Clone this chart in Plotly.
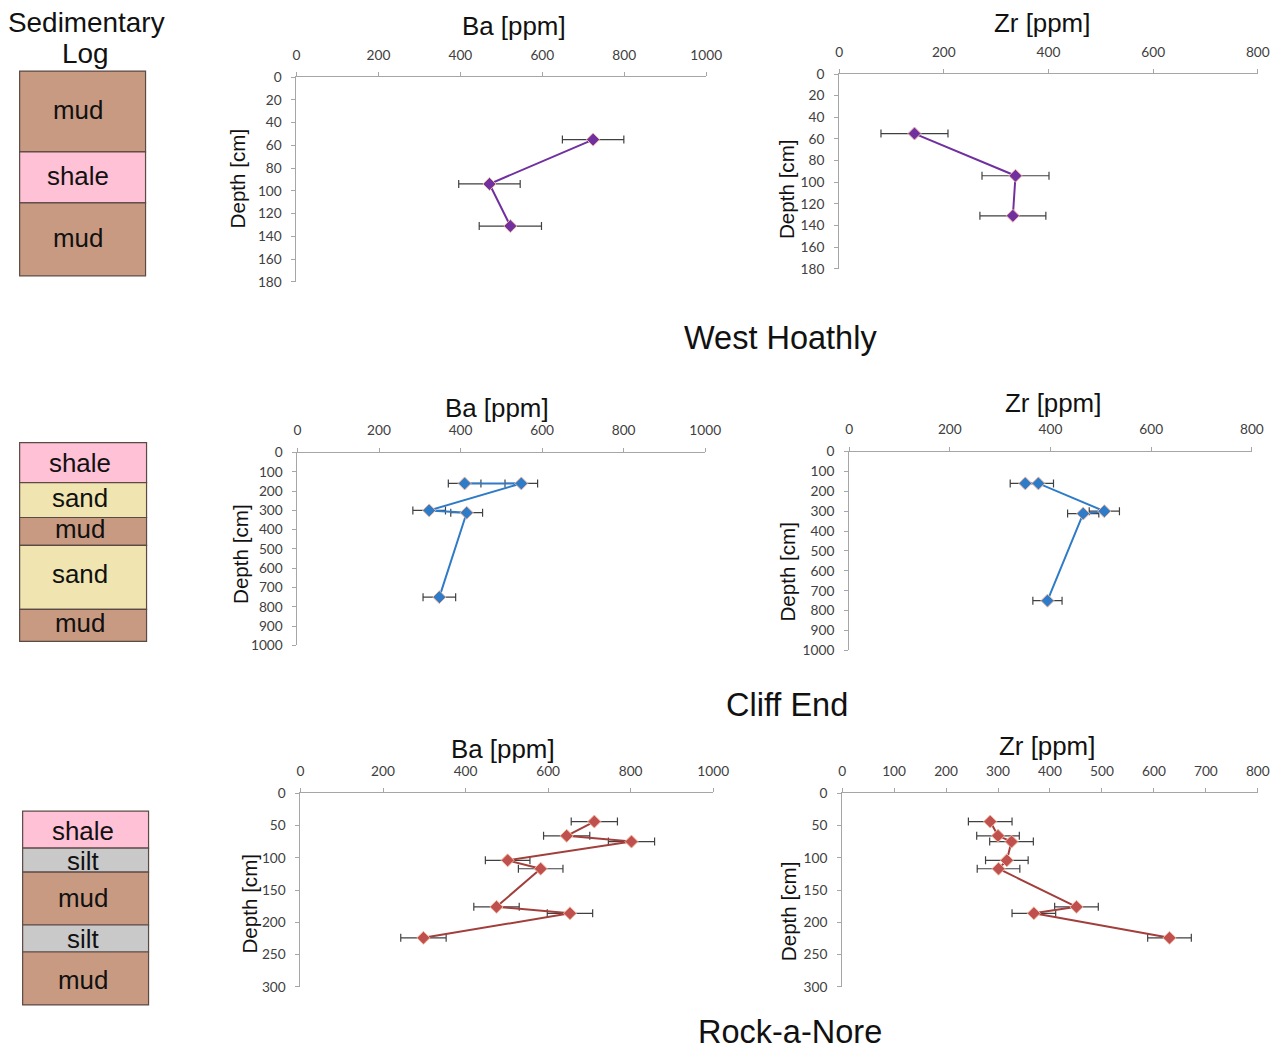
import plotly.graph_objects as go

W, H = 1279, 1050
# layout positions below are given in page pixels; convert with the page scale/offset
S, OFF_X, OFF_Y = 0.985, 3.4, 8

# ---- West Hoathly ----
wh_depth = [55, 94, 131]
wh_ba = [724, 471, 522]
wh_ba_err = [75, 75, 76]
wh_zr = [144, 337, 332]
wh_zr_err = [64, 64, 63]

# ---- Cliff End ----
ce_depth = [160, 160, 300, 312, 750]
ce_ba = [410, 549, 323, 415, 348]
ce_ba_err = [40, 40, 40, 39, 40]
ce_zr = [350, 376, 507, 465, 394]
ce_zr_err = [30, 30, 30, 31, 29]

# ---- Rock-a-Nore ----
rn_depth = [44, 66, 75, 104, 117, 176, 186, 224]
rn_ba = [712, 645, 802, 502, 582, 475, 653, 298]
rn_ba_err = [56, 56, 56, 54, 54, 55, 55, 55]
rn_zr = [285, 300, 326, 317, 301, 451, 369, 630]
rn_zr_err = [42, 41, 42, 41, 41, 42, 42, 42]

# Sedimentary logs: (lithology, top px, bottom px, label centre px)
log_wh = [("mud", 70, 151, 109), ("shale", 151, 202, 175), ("mud", 202, 275, 237)]
log_ce = [("shale", 442, 482, 462), ("sand", 482, 517, 497), ("mud", 517, 545, 529),
          ("sand", 545, 609, 574), ("mud", 609, 641, 623)]
log_rn = [("shale", 811, 848, 831), ("silt", 848, 872, 861), ("mud", 872, 925, 898),
          ("silt", 925, 952, 939), ("mud", 952, 1005, 980)]

litho_colors = {"mud": "#c99a82", "shale": "#ffc1d6", "sand": "#f0e5b0", "silt": "#c9c9c9"}


def px(x):
    return (x / S - OFF_X) / W


def py(y):
    return 1 - (y / S - OFF_Y) / H


def fs(size):
    return round(size / S, 1)


fig = go.Figure()

# panel definitions: values, errors, depths, x-max, x-dtick, y-max, y-dtick, page box, colours
panels = [
    (wh_ba, wh_ba_err, wh_depth, 1000, 200, 180, 20, (296, 706, 76, 281), "#7030a0", "#7030a0"),
    (wh_zr, wh_zr_err, wh_depth, 800, 200, 180, 20, (839, 1258, 73, 268), "#7030a0", "#7030a0"),
    (ce_ba, ce_ba_err, ce_depth, 1000, 200, 1000, 100, (297, 705, 452, 645), "#2e7bc8", "#2e7bc8"),
    (ce_zr, ce_zr_err, ce_depth, 800, 200, 1000, 100, (849, 1252, 451, 650), "#2e7bc8", "#2e7bc8"),
    (rn_ba, rn_ba_err, rn_depth, 1000, 200, 300, 50, (300, 713, 793, 987), "#a23f3c", "#c0504d"),
    (rn_zr, rn_zr_err, rn_depth, 800, 100, 300, 50, (842, 1258, 793, 987), "#a23f3c", "#c0504d"),
]

tick_font = dict(family="Lato, Open Sans, sans-serif", size=fs(13.5), color="#404040")
axis_common = dict(showline=True, linecolor="#a6a6a6", linewidth=1, ticks="outside",
                   ticklen=4, tickcolor="#a6a6a6", showgrid=False, zeroline=False,
                   tickfont=tick_font, ticklabelstandoff=7)

for i, (vals, errs, depth, xmax, xdt, ymax, ydt, dom, lcol, mcol) in enumerate(panels, start=1):
    xa = "x" if i == 1 else f"x{i}"
    ya = "y" if i == 1 else f"y{i}"
    fig.add_trace(go.Scatter(
        x=vals, y=depth, xaxis=xa, yaxis=ya, mode="lines+markers",
        line=dict(color=lcol, width=2),
        marker=dict(symbol="diamond", size=10, color=mcol, line=dict(color="#f2b8a0", width=1)),
        error_x=dict(type="data", array=errs, color="#404040", thickness=1.2, width=4),
        showlegend=False,
    ))
    x0, x1, y0, y1 = dom
    suffix = "" if i == 1 else str(i)
    fig.layout[f"xaxis{suffix}"] = dict(
        axis_common, domain=[px(x0), px(x1)], range=[0, xmax], dtick=xdt,
        side="top", anchor=ya)
    fig.layout[f"yaxis{suffix}"] = dict(
        axis_common, domain=[py(y1), py(y0)], range=[ymax, 0], dtick=ydt,
        side="left", anchor=xa)

shapes = []
annotations = []


def text(x, y, s, size, angle=0):
    annotations.append(dict(x=px(x), y=py(y), xref="paper", yref="paper", text=s,
                            showarrow=False, xanchor="center", yanchor="middle",
                            textangle=angle,
                            font=dict(family="Liberation Sans, Arial, sans-serif",
                                      size=fs(size), color="#111111")))


# sedimentary log columns
for layers, (lx0, lx1), label_x in [(log_wh, (19, 145), 77), (log_ce, (19, 146), 79),
                                      (log_rn, (22, 148), 82)]:
    for name, top, bot, label_y in layers:
        shapes.append(dict(type="rect", xref="paper", yref="paper",
                           x0=px(lx0), x1=px(lx1), y0=py(bot), y1=py(top),
                           fillcolor=litho_colors[name],
                           line=dict(color="#5a4a44", width=1.2), layer="below"))
        text(label_x, label_y, name, 25.5)

# headings
text(86, 21, "Sedimentary", 27.5)
text(85, 52, "Log", 27.5)
text(514, 25, "Ba [ppm]", 25.5)
text(1042, 22, "Zr [ppm]", 25.5)
text(780, 337, "West Hoathly", 32)
text(497, 407, "Ba [ppm]", 25.5)
text(1053, 402, "Zr [ppm]", 25.5)
text(787, 705, "Cliff End", 32)
text(503, 749, "Ba [ppm]", 25.5)
text(1047, 746, "Zr [ppm]", 25.5)
text(790, 1032, "Rock-a-Nore", 32)

# depth axis titles
for x, y in [(237, 177), (787, 188), (240, 553), (787, 571), (249, 903), (788, 911)]:
    text(x, y, "Depth [cm]", 20.3, angle=-90)

fig.update_layout(
    width=W, height=H, margin=dict(l=0, r=0, t=0, b=0),
    paper_bgcolor="white", plot_bgcolor="white",
    shapes=shapes, annotations=annotations,
)

fig.write_html("out.html")
